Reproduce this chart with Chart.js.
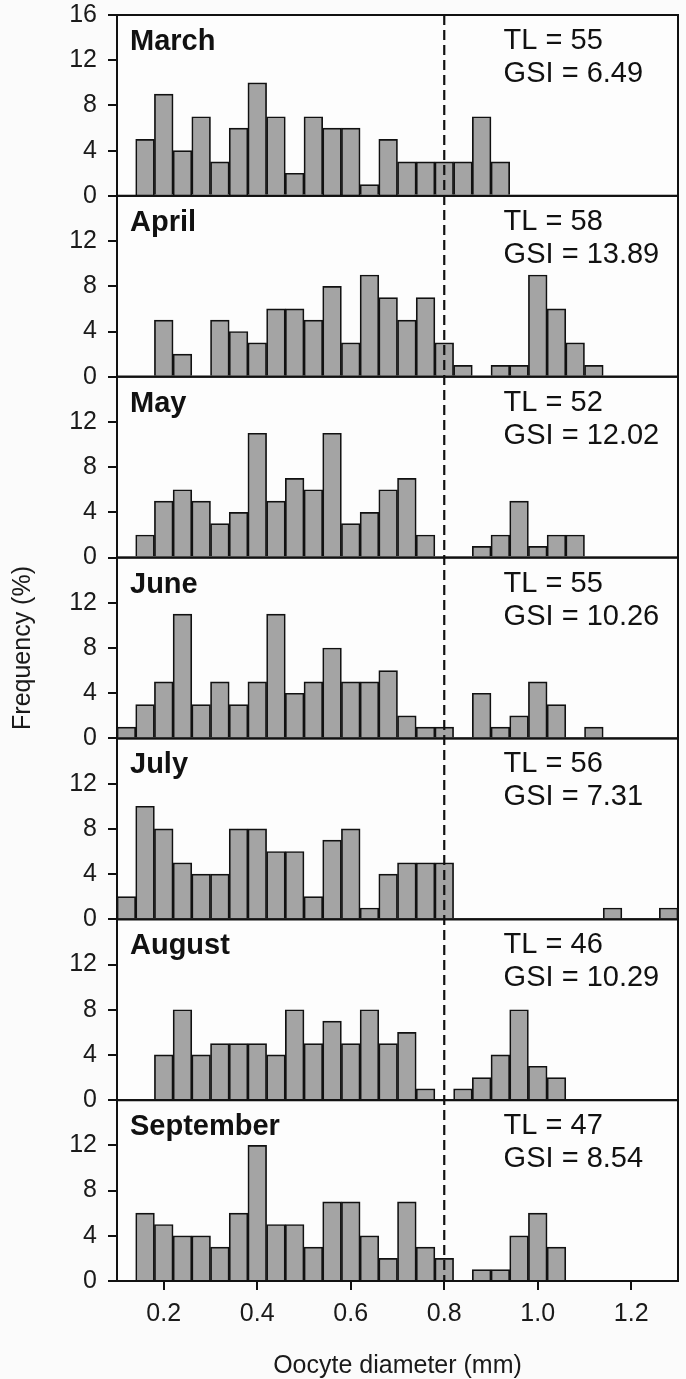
<!DOCTYPE html>
<html>
<head>
<meta charset="utf-8">
<script src="https://cdn.jsdelivr.net/npm/chart.js@4/dist/chart.umd.min.js"></script>
<style>
    html, body { margin: 0; padding: 0; background: #fbfbfb; }
    #wrap { position: relative; width: 686px; height: 1379px; }
</style>
</head>
<body>
<div id="wrap"><canvas id="oocyte-chart"></canvas></div>
<script>
// bin centres (mm), 0.04 mm wide bins
var binCenters = [0.12, 0.16, 0.20, 0.24, 0.28, 0.32, 0.36, 0.40, 0.44, 0.48,
    0.52, 0.56, 0.60, 0.64, 0.68, 0.72, 0.76, 0.80, 0.84, 0.88,
    0.92, 0.96, 1.00, 1.04, 1.08, 1.12, 1.16, 1.20, 1.24, 1.28];

var months = ['March', 'April', 'May', 'June', 'July', 'August', 'September'];
var totalLength = [55, 58, 52, 55, 56, 46, 47];
var gsi = ['6.49', '13.89', '12.02', '10.26', '7.31', '10.29', '8.54'];

// frequency (%) per bin
var marchFreq = [0, 5, 9, 4, 7, 3, 6, 10, 7, 2, 7, 6, 6, 1, 5, 3, 3, 3, 3, 7, 3, 0, 0, 0, 0, 0, 0, 0, 0, 0];
var aprilFreq = [0, 0, 5, 2, 0, 5, 4, 3, 6, 6, 5, 8, 3, 9, 7, 5, 7, 3, 1, 0, 1, 1, 9, 6, 3, 1, 0, 0, 0, 0];
var mayFreq = [0, 2, 5, 6, 5, 3, 4, 11, 5, 7, 6, 11, 3, 4, 6, 7, 2, 0, 0, 1, 2, 5, 1, 2, 2, 0, 0, 0, 0, 0];
var juneFreq = [1, 3, 5, 11, 3, 5, 3, 5, 11, 4, 5, 8, 5, 5, 6, 2, 1, 1, 0, 4, 1, 2, 5, 3, 0, 1, 0, 0, 0, 0];
var julyFreq = [2, 10, 8, 5, 4, 4, 8, 8, 6, 6, 2, 7, 8, 1, 4, 5, 5, 5, 0, 0, 0, 0, 0, 0, 0, 0, 1, 0, 0, 1];
var augustFreq = [0, 0, 4, 8, 4, 5, 5, 5, 4, 8, 5, 7, 5, 8, 5, 6, 1, 0, 1, 2, 4, 8, 3, 2, 0, 0, 0, 0, 0, 0];
var septemberFreq = [0, 6, 5, 4, 4, 3, 6, 12, 5, 5, 3, 7, 7, 4, 2, 7, 3, 2, 0, 1, 1, 4, 6, 3, 0, 0, 0, 0, 0, 0];

var xTicks = [0.2, 0.4, 0.6, 0.8, 1.0, 1.2];
var yTicks = [0, 4, 8, 12];
var yTopTicks = [0, 4, 8, 12, 16];
var cutoff = 0.8;

var allFreq = [marchFreq, aprilFreq, mayFreq, juneFreq, julyFreq, augustFreq, septemberFreq];
var FONT = '"Liberation Sans", Arial, sans-serif';

var oocyteChart = {
    axisId: function (i) {
        return 'y' + i;
    },
    buildDatasets: function () {
        return allFreq.map(function (freq, i) {
            return {
                label: months[i],
                yAxisID: oocyteChart.axisId(i),
                data: freq.map(function (v, j) { return { x: binCenters[j], y: v }; }),
                backgroundColor: '#a4a4a4',
                borderColor: '#111',
                borderWidth: 1.7,
                barPercentage: 1,
                categoryPercentage: 1,
                grouped: false
            };
        });
    },
    yScale: function (i) {
        return {
            type: 'linear',
            position: 'left',
            stack: 'months',
            stackWeight: 1,
            min: 0,
            max: 16,
            afterBuildTicks: function (scale) {
                var t = i === 0 ? yTopTicks : yTicks;
                scale.ticks = t.map(function (v) { return { value: v }; });
            },
            afterFit: function (scale) {
                scale.width = 117;
                // let the "16" label hang above the frame instead of pushing it down
                scale.paddingTop = 0;
                scale.paddingBottom = 0;
            },
            grid: { drawOnChartArea: false, color: '#111', lineWidth: 2, tickLength: 9 },
            border: { color: '#111', width: 2 },
            ticks: {
                color: '#1a1a1a',
                padding: 11,
                autoSkip: false,
                font: { family: FONT, size: 25 }
            },
            title: {
                display: i === 3,
                text: 'Frequency (%)',
                color: '#1a1a1a',
                font: { family: FONT, size: 25, lineHeight: 1 },
                padding: { top: 11, bottom: 0 }
            }
        };
    },
    buildScales: function () {
        var scales = {
            x: {
                type: 'linear',
                min: 0.1,
                max: 1.3,
                offset: false,
                afterBuildTicks: function (scale) {
                    scale.ticks = xTicks.map(function (v) { return { value: v }; });
                },
                afterFit: function (scale) {
                    scale.height = 98;
                    scale.paddingLeft = 0;
                    scale.paddingRight = 0;
                },
                grid: { drawOnChartArea: false, offset: false, color: '#111', lineWidth: 2, tickLength: 9 },
                border: { color: '#111', width: 2 },
                ticks: {
                    color: '#1a1a1a',
                    padding: 9,
                    font: { family: FONT, size: 25 },
                    callback: function (v) { return Number(v).toFixed(1); }
                },
                title: {
                    display: true,
                    text: 'Oocyte diameter (mm)',
                    color: '#1a1a1a',
                    font: { family: FONT, size: 25, lineHeight: 1 },
                    padding: { top: 0, bottom: 0 }
                }
            }
        };
        // stacked axes are laid out bottom-up, so add September first
        for (var i = months.length - 1; i >= 0; i--) {
            scales[oocyteChart.axisId(i)] = oocyteChart.yScale(i);
        }
        return scales;
    }
};

// panel frames, dashed 0.8 mm line and the text in each panel
var panelPlugin = {
    id: 'panelPlugin',
    beforeDraw: function (chart) {
        var ctx = chart.ctx;
        var a = chart.chartArea;
        ctx.save();
        ctx.fillStyle = '#fbfbfb';
        ctx.fillRect(0, 0, chart.width, chart.height);
        ctx.fillStyle = '#fdfdfd';
        ctx.fillRect(a.left, a.top, a.right - a.left, a.bottom - a.top);
        ctx.restore();
    },
    afterDatasetsDraw: function (chart) {
        var ctx = chart.ctx;
        var area = chart.chartArea;
        var xs = chart.scales.x;
        ctx.save();

        var dx = xs.getPixelForValue(cutoff);
        ctx.strokeStyle = '#111';
        ctx.lineWidth = 2.2;
        ctx.setLineDash([10, 5]);
        ctx.beginPath();
        ctx.moveTo(dx, area.top);
        ctx.lineTo(dx, area.bottom);
        ctx.stroke();
        ctx.setLineDash([]);

        months.forEach(function (m, i) {
            var ys = chart.scales[oocyteChart.axisId(i)];
            ctx.strokeStyle = '#111';
            ctx.lineWidth = 2;
            ctx.strokeRect(area.left, ys.top, area.right - area.left, ys.bottom - ys.top);

            ctx.fillStyle = '#111';
            ctx.textBaseline = 'alphabetic';
            ctx.textAlign = 'left';
            ctx.font = 'bold 29px ' + FONT;
            ctx.fillText(m, area.left + 13, ys.top + 35);

            var tx = xs.getPixelForValue(0.927);
            ctx.font = '29px ' + FONT;
            ctx.fillText('TL = ' + totalLength[i], tx, ys.top + 34);
            ctx.fillText('GSI = ' + gsi[i], tx, ys.top + 67);
        });
        ctx.restore();
    }
};

var ctx = document.getElementById('oocyte-chart').getContext('2d');
var chart = new Chart(ctx, {
    type: 'bar',
    data: { datasets: oocyteChart.buildDatasets() },
    options: {
        responsive: true,
        maintainAspectRatio: false,
        animation: false,
        layout: { padding: { top: 15, right: 8, bottom: 0, left: 0 } },
        plugins: { legend: { display: false }, tooltip: { enabled: false } },
        scales: oocyteChart.buildScales()
    },
    plugins: [panelPlugin]
});
</script>
</body>
</html>
